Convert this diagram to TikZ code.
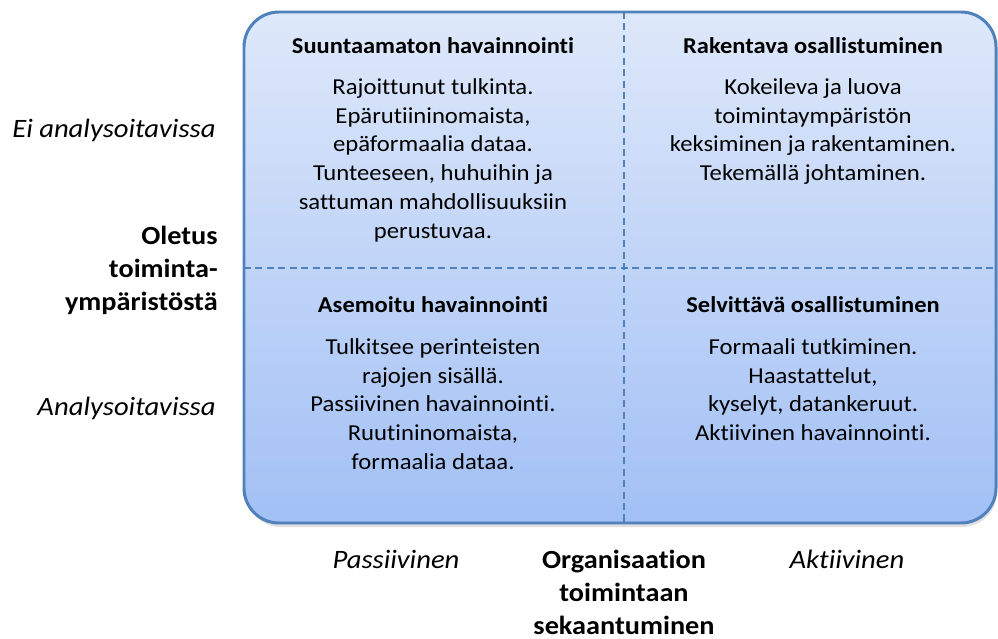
\documentclass[tikz,border=0pt]{standalone}
\usepackage{fontspec}
\setmainfont{Carlito}[FakeStretch=1.08, Ligatures=NoCommon]
\usetikzlibrary{positioning}
\definecolor{boxtop}{RGB}{222,232,250}
\definecolor{boxbot}{RGB}{162,192,245}
\definecolor{boxline}{RGB}{79,129,189}
\tikzstyle{quadbox} = [draw=boxline, line width=1.7pt, rounded corners=0.7cm, top color=boxtop, bottom color=boxbot]
\tikzstyle{divider} = [draw=boxline, line width=1.1pt, dash pattern=on 4pt off 2.5pt]
\tikzstyle{head} = [font=\fontsize{12.9}{14}\selectfont\bfseries, inner sep=0pt, anchor=base]
\tikzstyle{body} = [font=\fontsize{13}{16.4}\selectfont, align=center, inner sep=0pt, anchor=north]
\tikzstyle{side} = [font=\fontsize{15.1}{16}\selectfont\itshape, inner sep=0pt, anchor=base]
\tikzstyle{axis} = [font=\fontsize{14.9}{18.6}\selectfont\bfseries, inner sep=0pt, anchor=north]

\begin{document}
\begin{tikzpicture}[x=0.02cm, y=-0.02cm]
\useasboundingbox (0,0) rectangle (998,639);

% background box with shadow
\fill[black!12, rounded corners=0.7cm] (246,16) rectangle (997,527);
\draw[quadbox] (244,12) rectangle (996,523);

% dashed dividers
\coordinate (midtop) at (624,12);
\coordinate (midbot) at (624,523);
\coordinate (midleft) at (244,268);
\coordinate (midright) at (996,268);
\draw[divider] (midtop) -- (midbot);
\draw[divider] (midleft) -- (midright);

% quadrant headings
\node[head] (tlhead) at (433,53) {Suuntaamaton havainnointi};
\node[head] (trhead) at (813,53) {Rakentava osallistuminen};
\node[head] (blhead) at (433,312) {Asemoitu havainnointi};
\node[head] (brhead) at (813,312) {Selvittävä osallistuminen};

% quadrant texts
\node[body] (tlbody) at (433,78) {Rajoittunut tulkinta.\\Epärutiininomaista,\\epäformaalia dataa.\\Tunteeseen, huhuihin ja\\sattuman mahdollisuuksiin\\perustuvaa.};
\node[body] (trbody) at (813,78) {Kokeileva ja luova\\toimintaympäristön\\keksiminen ja rakentaminen.\\Tekemällä johtaminen.};
\node[body] (blbody) at (433,338) {Tulkitsee perinteisten\\rajojen sisällä.\\Passiivinen havainnointi.\\Ruutininomaista,\\formaalia dataa.};
\node[body] (brbody) at (813,338) {Formaali tutkiminen.\\Haastattelut,\\kyselyt, datankeruut.\\Aktiivinen havainnointi.};

% vertical axis
\node[side, anchor=base east] (notanal) at (216,137) {Ei analysoitavissa};
\node[axis, anchor=north east, align=right] (envaxis) at (218,226) {Oletus\\toiminta-\\ympäristöstä};
\node[side, anchor=base east] (anal) at (216,415) {Analysoitavissa};

% horizontal axis
\node[side] (passive) at (396,568) {Passiivinen};
\node[axis, align=center] (orgaxis) at (624,550) {Organisaation\\toimintaan\\sekaantuminen};
\node[side] (active) at (847,568) {Aktiivinen};

\end{tikzpicture}
\end{document}
